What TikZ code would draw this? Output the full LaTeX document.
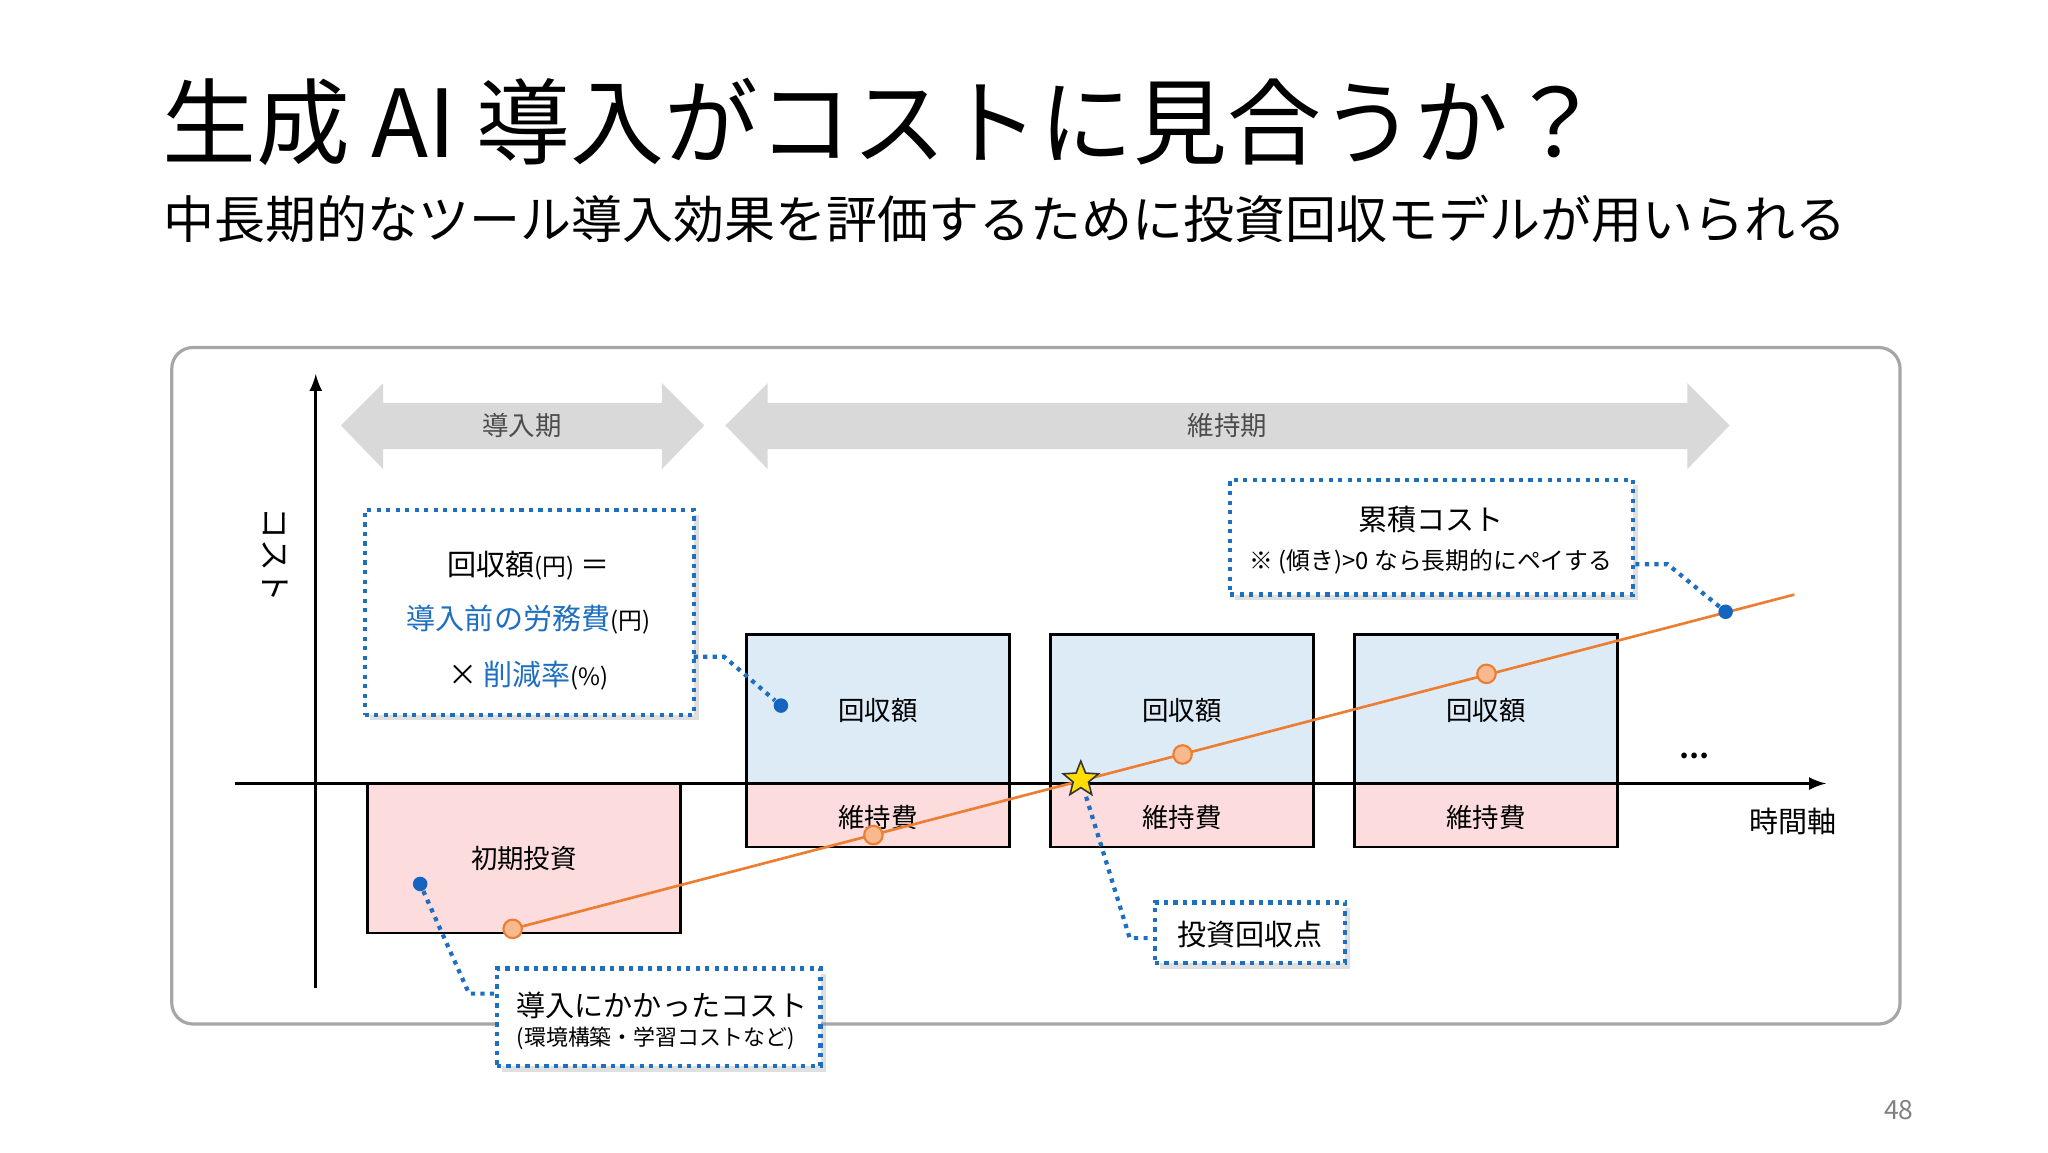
\documentclass[tikz,border=0pt]{standalone}
\usepackage{fontspec}
\setmainfont{Noto Sans CJK JP}
\usetikzlibrary{shapes.geometric,shadows}
\definecolor{bl}{HTML}{1F6FC0}
\definecolor{dotb}{HTML}{1565C0}
\definecolor{or}{HTML}{ED7D31}
\definecolor{orf}{HTML}{F8B98F}
\definecolor{lb}{HTML}{DDEBF7}
\definecolor{pk}{HTML}{FCDCDC}
\definecolor{ga}{HTML}{D9D9D9}
\tikzset{
 ann/.style={draw=bl,line width=1.6pt,dotted,fill=white,drop shadow={opacity=0.25,shadow xshift=2pt,shadow yshift=-2pt}},
 lnk/.style={draw=bl,line width=1.6pt,dotted},
 rb/.style={draw=black,line width=1pt,fill=lb},
 rp/.style={draw=black,line width=1pt,fill=pk},
 od/.style={circle,draw=or,fill=orf,line width=0.8pt,inner sep=0pt,minimum size=7pt},
 bd/.style={circle,fill=dotb,inner sep=0pt,minimum size=5.5pt},
 lab/.style={font=\fontsize{10}{12}\selectfont},
 garrow/.style={fill=ga},
}
\begin{document}
\begin{tikzpicture}[x=0.5pt,y=-0.5pt]
\useasboundingbox (0,0) rectangle (1550,872);
\fill[white] (0,0) rectangle (1550,872);
\node[anchor=west,font=\fontsize{35.5}{38}\selectfont] (title) at (116,92) {生成 AI 導入がコストに見合うか？};
\node[anchor=west,font=\fontsize{19.3}{22}\selectfont] (sub) at (117,166) {中長期的なツール導入効果を評価するために投資回収モデルが用いられる};
\draw[gray!70,line width=1.2pt,rounded corners=8pt] (130,263) rectangle (1438,775);
% gray arrows
\fill[garrow] (258,322)--(290,290)--(290,305)--(501,305)--(501,290)--(533,322)--(501,355)--(501,340)--(290,340)--(290,355)--cycle;
\node[lab,text=black!70] (p1) at (395,322) {導入期};
\fill[garrow] (549,322)--(581,290)--(581,305)--(1277,305)--(1277,290)--(1309,322)--(1277,355)--(1277,340)--(581,340)--(581,355)--cycle;
\node[lab,text=black!70] (p2) at (929,322) {維持期};
% boxes
\node[rp,minimum width=118.5pt,minimum height=56.5pt] (init) at (396.5,649.5) {};
\node[lab] at (init) {初期投資};
\foreach \i/\x in {1/664.5,2/894.5,3/1124.5}{
 \node[rb,minimum width=99.5pt,minimum height=56.5pt] (r\i) at (\x,536.5) {};
 \node[lab] at (\x,538) {回収額};
 \node[rp,minimum width=99.5pt,minimum height=24pt] (m\i) at (\x,617) {};
 \node[lab] at (\x,619) {維持費};
}
% axes
\coordinate (xs) at (178,593); \coordinate (xe) at (1382,593);
\coordinate (ys) at (239,748); \coordinate (ye) at (239,283);
\draw[line width=1.2pt,-latex] (xs)--(xe);
\draw[line width=1.2pt,-latex] (ys)--(ye);
\node[lab,rotate=-90,font=\fontsize{12}{14}\selectfont] (ylab) at (208,420) {コスト};
\node[font=\fontsize{11}{13}\selectfont] (xlab) at (1357,622) {時間軸};
\node[font=\bfseries\fontsize{10}{12}\selectfont] (dots) at (1282,572) {…};
% orange line
\coordinate (l0) at (388,703); \coordinate (l1) at (1358,450);
\draw[or,line width=1pt] (l0)--(l1);
\node[od] (o1) at (388,703) {};
\node[od] (o2) at (661,632) {};
\node[od] (o3) at (895,571) {};
\node[od] (o4) at (1125,510) {};
\node[star,star points=5,star point ratio=2.3,fill=yellow!80!orange,draw=black!80,line width=0.6pt,inner sep=0pt,minimum size=14pt] (st) at (818,590) {};
% annotation boxes
\node[ann,minimum width=124.5pt,minimum height=77.5pt] (fb) at (400.5,463.5) {};
\node[font=\fontsize{11}{13}\selectfont] at (400,428) {回収額{\fontsize{9}{11}\selectfont (円)} ＝};
\node[font=\fontsize{11}{13}\selectfont] at (400,469) {\textcolor{bl}{導入前の労務費}{\fontsize{9}{11}\selectfont (円)}};
\node[font=\fontsize{11}{13}\selectfont] at (400,511) {× \textcolor{bl}{削減率}{\fontsize{9}{11}\selectfont (\%)}};
\node[bd] (d1) at (591,534) {};
\coordinate (fbr) at (525,497);
\coordinate (fbk) at (548,497);
\draw[lnk] (fbr)--(fbk)--(d1);

\node[ann,minimum width=122.5pt,minimum height=37pt] (ib) at (498.5,770) {};
\node[anchor=west,font=\fontsize{11}{13}\selectfont] at (384,761) {導入にかかったコスト};
\node[anchor=west,font=\fontsize{8.3}{10}\selectfont] at (384,786) {(環境構築・学習コストなど)};
\node[bd] (d2) at (318,669) {};
\coordinate (k2) at (355,752);
\draw[lnk] (d2)--(k2)--(ib.west|-k2);

\node[ann,minimum width=72pt,minimum height=23pt] (pb) at (946,706) {};
\node[font=\fontsize{11}{13}\selectfont] at (946,707) {投資回収点};
\coordinate (k3) at (855,710);
\draw[lnk] (822,603)--(k3)--(pb.west|-k3);

\node[ann,minimum width=152.5pt,minimum height=43.5pt] (cb) at (1083.5,406.5) {};
\node[font=\fontsize{11}{13}\selectfont] at (1083,393) {累積コスト};
\node[font=\fontsize{9}{11}\selectfont] at (1083,425) {※ (傾き)>0 なら長期的にペイする};
\node[bd] (d3) at (1306,463) {};
\coordinate (k4) at (1262,427);
\draw[lnk] (cb.east|-k4)--(k4)--(d3);

\node[text=gray,font=\fontsize{10}{12}\selectfont] (pg) at (1437,840) {48};
\end{tikzpicture}
\end{document}
